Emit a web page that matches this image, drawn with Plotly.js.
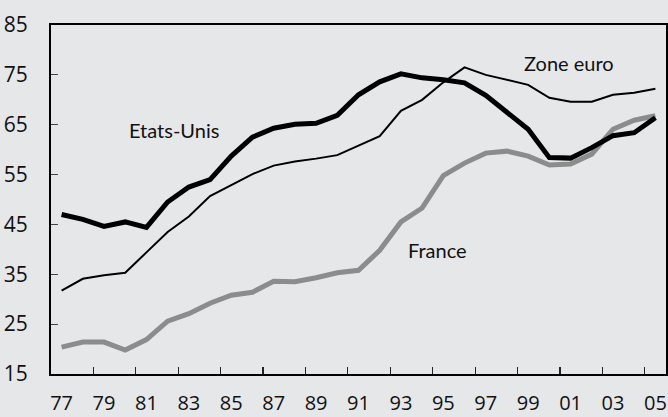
<!DOCTYPE html>
<html>
<head>
<meta charset="utf-8">
<script src="https://cdn.plot.ly/plotly-3.0.1.min.js"></script>
<style>
html,body{margin:0;padding:0;background:#e6e7e9;}
#chart{width:668px;height:417px;}
</style>
</head>
<body>
<div id="chart"></div>
<script>
const years = [1977,1978,1979,1980,1981,1982,1983,1984,1985,1986,1987,1988,1989,1990,1991,1992,1993,1994,1995,1996,1997,1998,1999,2000,2001,2002,2003,2004,2005];
const etatsUnis = [47.0,46.0,44.6,45.5,44.4,49.5,52.5,54.0,58.7,62.5,64.3,65.1,65.3,66.9,71.0,73.6,75.2,74.4,74.0,73.4,70.9,67.6,64.1,58.4,58.3,60.4,62.8,63.4,66.4];
const zoneEuro = [31.7,34.1,34.8,35.3,39.4,43.5,46.6,50.7,52.9,55.1,56.8,57.6,58.2,58.9,60.8,62.7,67.8,70.0,73.5,76.5,75.0,74.0,73.0,70.4,69.6,69.6,71.0,71.4,72.2];
const france = [20.4,21.4,21.4,19.8,21.9,25.6,27.1,29.2,30.8,31.4,33.6,33.5,34.3,35.3,35.8,39.8,45.5,48.3,54.8,57.3,59.3,59.7,58.7,56.9,57.1,59.1,64.1,65.9,66.8];
const xTickVals = [1977,1979,1981,1983,1985,1987,1989,1991,1993,1995,1997,1999,2001,2003,2005];
const xTickText = ["77","79","81","83","85","87","89","91","93","95","97","99","01","03","05"];
const xMarkVals = [1978.5,1980.5,1982.5,1984.5,1986.5,1988.5,1990.5,1992.5,1994.5,1996.5,1998.5,2000.5,2002.5,2004.5];
const yTickVals = [15,25,35,45,55,65,75,85];
const seriesLabels = ["Etats-Unis","Zone euro","France"];

const traces = [
  {x: years, y: france, type:'scatter', mode:'lines', name: seriesLabels[2],
   line:{color:'#8c8c8c', width:5, shape:'linear'}, hoverinfo:'skip'},
  {x: years, y: zoneEuro, type:'scatter', mode:'lines', name: seriesLabels[1],
   line:{color:'#000000', width:2}, hoverinfo:'skip'},
  {x: years, y: etatsUnis, type:'scatter', mode:'lines', name: seriesLabels[0],
   line:{color:'#000000', width:5}, hoverinfo:'skip'}
];

const labelFont = {family:'Lato, "Open Sans", sans-serif', size:20, color:'#111'};
const layout = {
  width:668, height:417,
  paper_bgcolor:'#e6e7e9', plot_bgcolor:'#e6e7e9',
  showlegend:false,
  margin:{l:51, r:2, t:25, b:43, pad:0},
  xaxis:{
    range:[1976.5,2005.5], showgrid:false, zeroline:false,
    showline:true, mirror:true, linecolor:'#000', linewidth:2,
    tickmode:'array', tickvals:xTickVals, ticktext:xTickText, ticks:'',
    ticklabelstandoff:10,
    tickfont:{family:'"Open Sans", sans-serif', size:20, color:'#111'},
    minor:{tickmode:'array', tickvals:xMarkVals, ticks:'inside', ticklen:7, tickwidth:1.2, tickcolor:'#222', showgrid:false}
  },
  yaxis:{
    range:[15,85], showgrid:false, zeroline:false,
    showline:true, mirror:true, linecolor:'#000', linewidth:2,
    tickmode:'array', tickvals:yTickVals, ticks:'inside', ticklen:7, tickwidth:1.2, tickcolor:'#444',
    ticklabelstandoff:17,
    tickfont:{family:'"Open Sans", sans-serif', size:21, color:'#111'}
  },
  annotations:[
    {x:1982.3, y:63.9, xref:'x', yref:'y', text:seriesLabels[0], showarrow:false, font:labelFont},
    {x:2000.92, y:77.4, xref:'x', yref:'y', text:seriesLabels[1], showarrow:false, font:labelFont},
    {x:1994.74, y:39.9, xref:'x', yref:'y', text:seriesLabels[2], showarrow:false, font:labelFont}
  ]
};
Plotly.newPlot('chart', traces, layout, {staticPlot:true, displayModeBar:false});
</script>
</body>
</html>
